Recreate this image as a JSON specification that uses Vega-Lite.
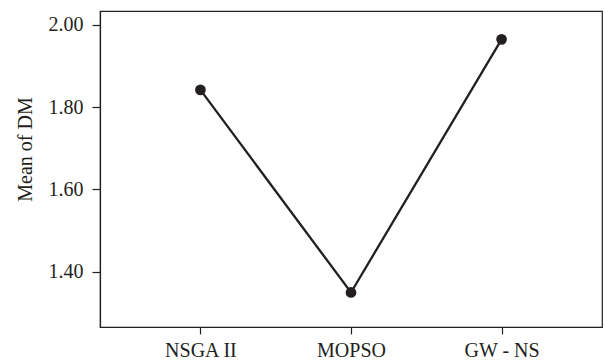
{
  "$schema": "https://vega.github.io/schema/vega-lite/v6.json",
  "width": 502,
  "height": 316,
  "autosize": {"type": "none"},
  "padding": {"left": 100, "top": 11, "right": 3, "bottom": 35},
  "background": "white",
  "data": {
    "values": [
      {"algorithm": "NSGA II", "meanDM": 1.842},
      {"algorithm": "MOPSO", "meanDM": 1.349},
      {"algorithm": "GW - NS", "meanDM": 1.965}
    ]
  },
  "encoding": {
    "x": {
      "field": "algorithm",
      "type": "ordinal",
      "sort": null,
      "scale": {"type": "point", "padding": 0.667},
      "axis": {
        "title": null,
        "labelAngle": 0,
        "tickSize": 7,
        "labelPadding": 6,
        "grid": false
      }
    },
    "y": {
      "field": "meanDM",
      "type": "quantitative",
      "scale": {"domain": [1.265, 2.034], "nice": false, "zero": false},
      "axis": {
        "title": "Mean of DM",
        "values": [1.4, 1.6, 1.8, 2.0],
        "format": ".2f",
        "tickSize": 8,
        "labelPadding": 9,
        "titlePadding": 13,
        "titleY": 138,
        "grid": false
      }
    }
  },
  "layer": [
    {"mark": {"type": "line", "color": "#231f20", "strokeWidth": 2.3}},
    {"mark": {"type": "point", "filled": true, "color": "#231f20", "opacity": 1, "size": 115}}
  ],
  "config": {
    "view": {"stroke": "#231f20", "strokeWidth": 1.2},
    "axis": {
      "domainColor": "#231f20",
      "domainWidth": 1.2,
      "tickColor": "#231f20",
      "tickWidth": 1.2,
      "labelFont": "Liberation Serif",
      "labelFontSize": 20,
      "labelColor": "#231f20",
      "titleFont": "Liberation Serif",
      "titleFontSize": 20,
      "titleFontWeight": "normal",
      "titleColor": "#231f20"
    }
  }
}
